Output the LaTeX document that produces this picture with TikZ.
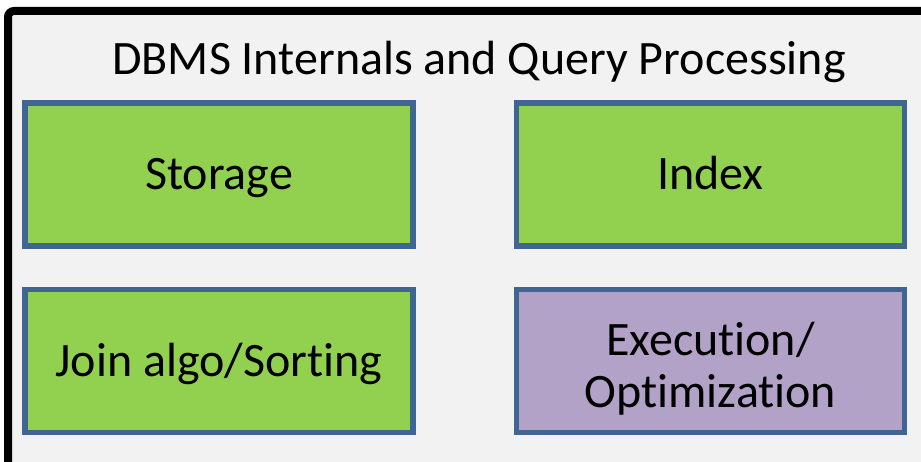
\documentclass[tikz,border=0pt]{standalone}
\usepackage{fontspec}
\setmainfont{Carlito}[Ligatures=NoCommon]
\usetikzlibrary{positioning}

\definecolor{framegray}{HTML}{F2F2F2}
\definecolor{topicgreen}{HTML}{92D050}
\definecolor{topicpurple}{HTML}{B3A2C7}
\definecolor{topicblue}{HTML}{3F6592}

\begin{document}
\begin{tikzpicture}[
        x=1pt, y=-1pt,
        font=\fontsize{48}{52}\selectfont,
        node distance=38pt and 98pt,
        frame/.style={draw=black, line width=8pt, rounded corners=6pt, fill=framegray},
        topic/.style={draw=topicblue, line width=5.5pt, fill=topicgreen, align=center, minimum width=388pt, minimum height=143pt, inner sep=0pt, text height=40pt, text depth=9pt},
        todo/.style={topic, fill=topicpurple, text height=102pt}
    ]
        \useasboundingbox (0,0) rectangle (921,462);
        \draw[frame] (8,11) rectangle (940,480);
        \node[anchor=base] (title) at (479,75) {DBMS Internals and Query Processing};

        \node[topic] (storage) at (219,174.5) {Storage};
        \node[topic, right=of storage] (index) {Index};
        \node[topic, below=of storage] (join) {Join algo/Sorting};
        \node[todo, below=of index] (exec) {Execution/\\Optimization};
    \end{tikzpicture}
\end{document}
